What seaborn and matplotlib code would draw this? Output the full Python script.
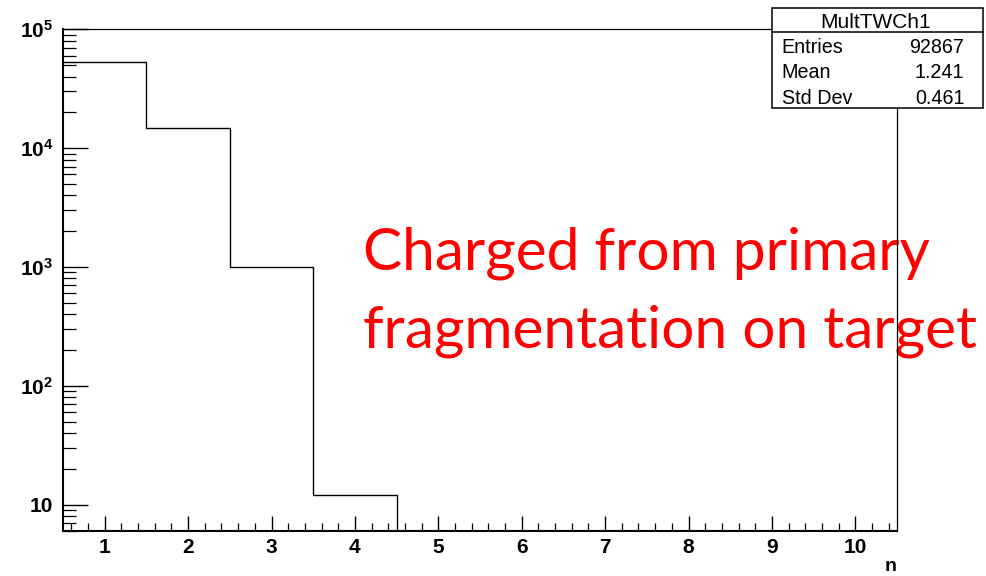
import numpy as np
import pandas as pd
import matplotlib
matplotlib.use("Agg")
import matplotlib.pyplot as plt
import seaborn as sns
from matplotlib.patches import Rectangle
from matplotlib.lines import Line2D

# ---- data ----
bin_centers = [1, 2, 3, 4, 5, 6, 7, 8, 9, 10]
counts = [53400, 14780, 1000, 12, 0, 0, 0, 0, 0, 0]
bin_edges = [0.5, 1.5, 2.5, 3.5, 4.5, 5.5, 6.5, 7.5, 8.5, 9.5, 10.5]
x_ticks = [1, 2, 3, 4, 5, 6, 7, 8, 9, 10]
y_ticks = [10, 100, 1000, 10000, 100000]
y_tick_labels = ["10", "$10^{2}$", "$10^{3}$", "$10^{4}$", "$10^{5}$"]
stats_title = "MultTWCh1"
stats_names = ["Entries", "Mean", "Std Dev"]
stats_values = ["92867", "1.241", "0.461"]
annotation_lines = ["Charged from primary", "fragmentation on target"]

sns.set_style("white")
plt.rcParams["font.family"] = ["Liberation Sans", "DejaVu Sans"]
plt.rcParams["mathtext.fontset"] = "custom"
plt.rcParams["mathtext.rm"] = "Liberation Sans:bold"
plt.rcParams["mathtext.it"] = "Liberation Sans:bold"
plt.rcParams["mathtext.bf"] = "Liberation Sans:bold"
for key in ["text.color", "axes.labelcolor", "xtick.color", "ytick.color",
            "xtick.labelcolor", "ytick.labelcolor"]:
    plt.rcParams[key] = "black"

W, H = 986, 576
PT = 0.72  # points per pixel at dpi 100
fig = plt.figure(figsize=(W / 100, H / 100), dpi=100)
L, R, B, T = 63, 897, 531, 29.3
ax = fig.add_axes([L / W, 1 - B / H, (R - L) / W, (B - T) / H])

df = pd.DataFrame({"n": bin_centers, "count": counts})
sns.histplot(data=df, x="n", weights="count", bins=bin_edges, element="step",
             fill=False, color="black", linewidth=1.0, ax=ax)
ax.set_yscale("log")
ax.set_xlim(0.5, 10.5)
ax.set_ylim(6.0, 1.0e5)

for s in ["top", "right", "left", "bottom"]:
    ax.spines[s].set_visible(True)
    ax.spines[s].set_color("black")
    ax.spines[s].set_zorder(3)
ax.spines["left"].set_linewidth(1.5)
ax.spines["bottom"].set_linewidth(1.5)
ax.spines["top"].set_linewidth(0.9)
ax.spines["right"].set_linewidth(0.9)

ax.set_xticks(x_ticks)
ax.set_xticklabels([str(v) for v in x_ticks], fontsize=15, fontweight="bold",
                   color="black")
ax.set_xticks(np.arange(0.6, 10.5, 0.2), minor=True)
ax.set_yticks(y_ticks)
ax.set_yticklabels(y_tick_labels, fontsize=15, fontweight="bold", color="black")
minor_y = [m * 10 ** e for e in range(0, 5) for m in range(2, 10)]
ax.set_yticks([v for v in minor_y if 6 <= v <= 1e5], minor=True)
ax.yaxis.set_minor_formatter(matplotlib.ticker.NullFormatter())
ax.tick_params(axis="x", which="major", direction="in", length=15 * PT, width=1.0,
               bottom=True, top=False, pad=5, colors="black")
ax.tick_params(axis="x", which="minor", direction="in", length=7.7 * PT, width=0.9,
               bottom=True, top=False, colors="black")
ax.tick_params(axis="y", which="major", direction="in", length=25 * PT, width=1.0,
               left=True, right=False, pad=7, colors="black")
ax.tick_params(axis="y", which="minor", direction="in", length=12.5 * PT, width=0.9,
               left=True, right=False, colors="black")
ax.set_ylabel("")
ax.set_xlabel("n", loc="right", fontsize=14, fontweight="bold", labelpad=1,
              color="black")
ax.grid(False)

# ---- annotation text, fitted to target widths ----
baselines = [269, 347]
right_edges = [930, 978]
x_left = 363
texts = []
for line, by in zip(annotation_lines, baselines):
    t = ax.text((x_left - L) / (R - L), (B - by) / (B - T), line,
                transform=ax.transAxes, color="#ff0000", fontsize=44,
                family=["Lato", "DejaVu Sans"], ha="left", va="baseline",
                clip_on=False, zorder=1)
    texts.append(t)
fig.canvas.draw()
rend = fig.canvas.get_renderer()
w1 = texts[1].get_window_extent(renderer=rend).width
size = 44 * (right_edges[1] - x_left) / w1
for t in texts:
    t.set_fontsize(size)

# ---- stats box ----
bx0, bx1, by0, by1 = 771.7, 983.0, 8.0, 107.7
def fx(px):
    return px / W
def fy(py):
    return 1 - py / H
fig.patches.append(Rectangle((fx(bx0), fy(by1)), fx(bx1) - fx(bx0), fy(by0) - fy(by1),
                             transform=fig.transFigure, facecolor="white",
                             edgecolor="black", linewidth=1.1, zorder=5))
fig.lines.append(Line2D([fx(bx0), fx(bx1)], [fy(32), fy(32)], transform=fig.transFigure,
                        color="black", linewidth=1.1, zorder=6))
fig.text(fx(876), fy(28), stats_title, ha="center", va="baseline",
         fontsize=15, zorder=7, color="black")
for i, (nme, val) in enumerate(zip(stats_names, stats_values)):
    yb = 52.7 + i * 25.6
    fig.text(fx(781.7), fy(yb), nme, ha="left", va="baseline", fontsize=14.2,
             zorder=7, color="black")
    fig.text(fx(964.5), fy(yb), val, ha="right", va="baseline", fontsize=14.2,
             zorder=7, color="black")

fig.savefig("out.png", dpi=100, facecolor="white")
